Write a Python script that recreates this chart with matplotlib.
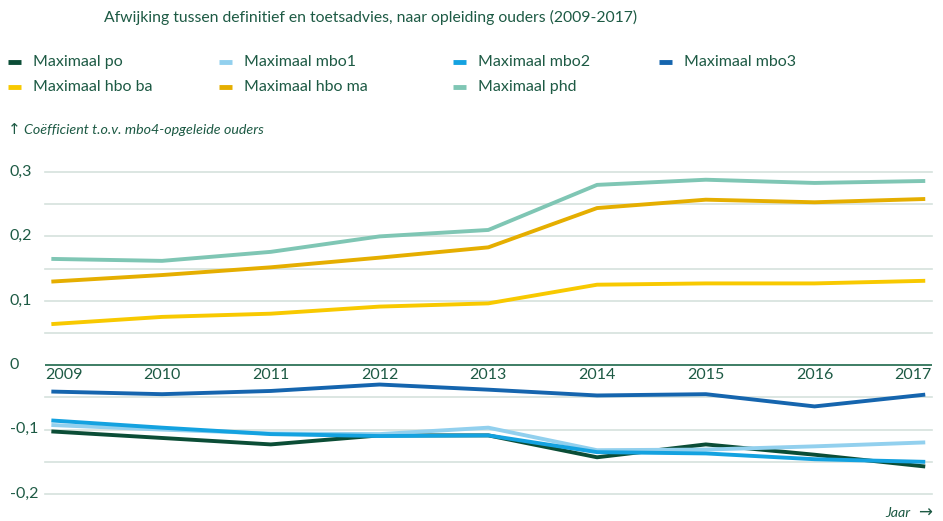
import matplotlib
matplotlib.use("Agg")
import matplotlib.pyplot as plt
from matplotlib.lines import Line2D

years = [2009, 2010, 2011, 2012, 2013, 2014, 2015, 2016, 2017]

po = [-0.103, -0.113, -0.123, -0.109, -0.109, -0.143, -0.123, -0.139, -0.157]
mbo1 = [-0.093, -0.100, -0.106, -0.107, -0.097, -0.132, -0.131, -0.126, -0.120]
mbo2 = [-0.086, -0.097, -0.107, -0.110, -0.109, -0.135, -0.137, -0.146, -0.150]
mbo3 = [-0.041, -0.045, -0.040, -0.030, -0.038, -0.047, -0.045, -0.064, -0.046]
hbo_ba = [0.064, 0.075, 0.080, 0.091, 0.096, 0.125, 0.127, 0.127, 0.131]
hbo_ma = [0.130, 0.140, 0.152, 0.167, 0.183, 0.244, 0.257, 0.253, 0.258]
phd = [0.165, 0.162, 0.176, 0.200, 0.210, 0.280, 0.288, 0.283, 0.286]

labels = ["Maximaal po", "Maximaal mbo1", "Maximaal mbo2", "Maximaal mbo3",
          "Maximaal hbo ba", "Maximaal hbo ma", "Maximaal phd"]
series = [po, mbo1, mbo2, mbo3, hbo_ba, hbo_ma, phd]
colors = ["#0b4d36", "#92d0ee", "#14a2e0", "#1565ae", "#f8c900", "#e5ae00", "#7fc6b4"]

yticks = [0.3, 0.2, 0.1, 0, -0.1, -0.2]
ytick_labels = ["0,3", "0,2", "0,1", "0", "-0,1", "-0,2"]

txt = "#1d5a44"
grid = "#d5e2dd"
plt.rcParams['font.family'] = ['Lato', 'DejaVu Sans']

fig = plt.figure(figsize=(9.43, 5.21), dpi=100)
ax = fig.add_axes([45/943, 1-494/521, (931.7-45)/943, (494-172)/521])
x_lo, x_hi = 2009 - 8.3/108.75, 2017 + 8.4/108.75
ax.set_xlim(x_lo, x_hi)
ax.set_ylim(-0.2, 0.3)

for g in [0.3, 0.25, 0.2, 0.15, 0.1, 0.05, -0.05, -0.1, -0.15, -0.2]:
    ax.axhline(g, color=grid, lw=1.2, zorder=1, clip_on=False)
ax.axhline(0, color="#2e7358", lw=1.3, zorder=2)

for s, c, l in zip(series, colors, labels):
    ax.plot(years, s, color=c, lw=2.8, label=l, zorder=3, solid_joinstyle="round")

for sp in ax.spines.values():
    sp.set_visible(False)
ax.set_xticks([])
ax.set_yticks([])

for i, yr in enumerate(years):
    if i == 0:
        ax.text(x_lo, -0.004, str(yr), ha="left", va="top", fontsize=11.5, color=txt)
    elif i == len(years) - 1:
        ax.text(x_hi, -0.004, str(yr), ha="right", va="top", fontsize=11.5, color=txt)
    else:
        ax.text(yr, -0.004, str(yr), ha="center", va="top", fontsize=11.5, color=txt)
for v, l in zip(yticks, ytick_labels):
    fig.text(10/943, 1 - (365 - v*643.5)/521, l, ha="left", va="center", fontsize=11.5, color=txt)

fig.text(104/943, 1-17/521, "Afwijking tussen definitief en toetsadvies, naar opleiding ouders (2009-2017)",
         ha="left", va="center", fontsize=11.3, color=txt)

col_x = [8, 219, 453, 659]
row_y = [62, 87]
for i, (c, l) in enumerate(zip(colors, labels)):
    r, k = divmod(i, 4)
    x0 = col_x[k]
    y0 = 1 - row_y[r]/521
    fig.add_artist(Line2D([x0/943, (x0+13)/943], [y0, y0], color=c, lw=3.5,
                          solid_capstyle="butt", transform=fig.transFigure))
    fig.text((x0+25)/943, y0, l, ha="left", va="center", fontsize=11.5, color=txt)

fig.text(8/943, 1-130/521, "\u2191", ha="left", va="center", fontsize=11, color=txt, family=["DejaVu Sans"])
fig.text(24/943, 1-130/521, "Coëfficient t.o.v. mbo4-opgeleide ouders", ha="left", va="center",
         fontsize=10.3, style="italic", color=txt)
fig.text(910/943, 1-513/521, "Jaar", ha="right", va="center", fontsize=10.3,
         style="italic", color=txt)
fig.text(932/943, 1-513/521, "\u2192", ha="right", va="center", fontsize=12,
         color=txt, family=["DejaVu Sans"])

fig.savefig("out.png", dpi=100, facecolor="white")
